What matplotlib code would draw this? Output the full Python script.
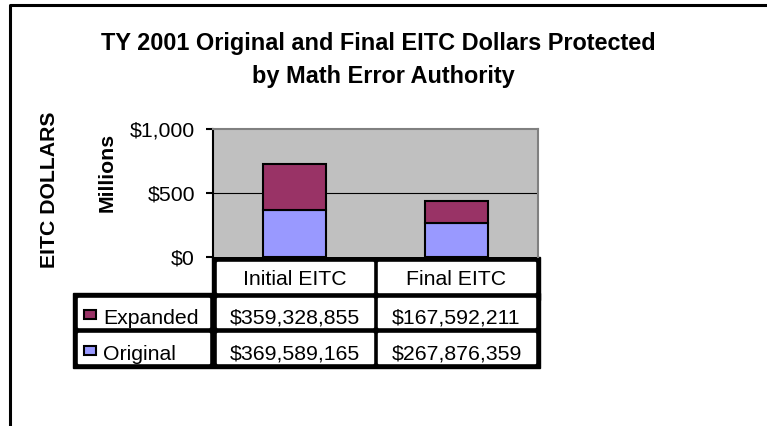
import matplotlib
matplotlib.use("Agg")
import matplotlib.pyplot as plt
from matplotlib.patches import Rectangle
from matplotlib.ticker import FuncFormatter

plt.rcParams['font.family'] = ['Liberation Sans', 'DejaVu Sans']

# datos
categories = ["Initial EITC", "Final EITC"]
series_names = ["Expanded", "Original"]
original = [369589165, 267876359]
expanded = [359328855, 167592211]
colors = {"Expanded": "#993366", "Original": "#9999FF"}

W, H = 767, 426
fig = plt.figure(figsize=(W / 100, H / 100), dpi=100)
fs = 15.3


def px(x0, y0, x1, y1):
    # caja en pixeles (origen arriba-izquierda) -> coordenadas de figura
    return [x0 / W, 1 - y1 / H, (x1 - x0) / W, (y1 - y0) / H]


# marco exterior
frame = fig.add_axes([0, 0, 1, 1])
frame.set_xlim(0, W)
frame.set_ylim(H, 0)
frame.axis("off")
frame.plot([10, 10, W], [H, 5, 5], color="black", lw=2.2, solid_capstyle="butt")

# titulo
frame.text(378, 50, "TY 2001 Original and Final EITC Dollars Protected",
           ha="center", va="baseline", fontsize=16.9, fontweight="bold")
frame.text(383, 83, "by Math Error Authority",
           ha="center", va="baseline", fontsize=16.9, fontweight="bold")
frame.text(50, 190, "EITC DOLLARS", rotation=90, ha="center", va="center",
           fontsize=fs, fontweight="bold")
frame.text(107, 172, "Millions", rotation=90, ha="center", va="center",
           fontsize=fs, fontweight="bold")

# grafico de barras
ax_l, ax_t, ax_r, ax_b = 213, 129, 538, 257
ax = fig.add_axes(px(ax_l, ax_t, ax_r, ax_b))
ax.set_facecolor("#C0C0C0")
xs = range(len(categories))
orig_m = [v / 1e6 for v in original]
exp_m = [v / 1e6 for v in expanded]
ax.bar(xs, orig_m, width=0.39, color=colors["Original"], edgecolor="black", lw=1.5, zorder=3)
ax.bar(xs, exp_m, width=0.39, bottom=orig_m, color=colors["Expanded"], edgecolor="black", lw=1.5, zorder=3)
ax.set_xlim(-0.5, 1.5)
ax.set_ylim(0, 1000)
ax.set_yticks([0, 500, 1000])
ax.yaxis.set_major_formatter(FuncFormatter(lambda v, p: "${:,.0f}".format(v)))
ax.tick_params(axis="y", length=5, width=1.5, labelsize=fs, pad=8)
ax.set_xticks([])
ax.axhline(500, color="black", lw=0.8, zorder=1)
ax.spines["left"].set_linewidth(1.5)
ax.spines["top"].set_color("#808080")
ax.spines["right"].set_color("#808080")
ax.spines["top"].set_linewidth(1.5)
ax.spines["right"].set_linewidth(1.5)
ax.spines["bottom"].set_visible(False)

# tabla de datos (pixeles)
tbl_left, tbl_right = 73, 540
col_x = [(217, 373), (378, 535)]
label_x = (78, 209)
head_y = (262, 292)
rows_y = [(298, 327), (333, 363)]
baselines = [324, 360]

frame.add_patch(Rectangle((ax_l - 1, 257), tbl_right - ax_l + 1, 300 - 257,
                          color="black", zorder=2))
frame.add_patch(Rectangle((tbl_left, 293), tbl_right - tbl_left, 368 - 293,
                          color="black", zorder=2))
for j, cat in enumerate(categories):
    x0, x1 = col_x[j]
    frame.add_patch(Rectangle((x0, head_y[0]), x1 - x0, head_y[1] - head_y[0],
                              color="white", zorder=3))
    frame.text((x0 + x1) / 2, 285, cat, ha="center", va="baseline", fontsize=fs, zorder=4)

values = {"Expanded": expanded, "Original": original}
for i, name in enumerate(series_names):
    y0, y1 = rows_y[i]
    bl = baselines[i]
    cell = Rectangle((label_x[0], y0), label_x[1] - label_x[0], y1 - y0,
                     color="white", zorder=3)
    frame.add_patch(cell)
    frame.add_patch(Rectangle((84, bl - 14), 12, 9, facecolor=colors[name],
                              edgecolor="black", lw=1.5, zorder=4))
    t = frame.text(103, bl, name, ha="left", va="baseline", fontsize=fs, zorder=4)
    t.set_clip_path(cell)
    for j in range(len(categories)):
        x0, x1 = col_x[j]
        frame.add_patch(Rectangle((x0, y0), x1 - x0, y1 - y0, color="white", zorder=3))
        frame.text((x0 + x1) / 2, bl, "${:,}".format(values[name][j]),
                   ha="center", va="baseline", fontsize=fs, zorder=4)

fig.savefig("out.png", dpi=100)
